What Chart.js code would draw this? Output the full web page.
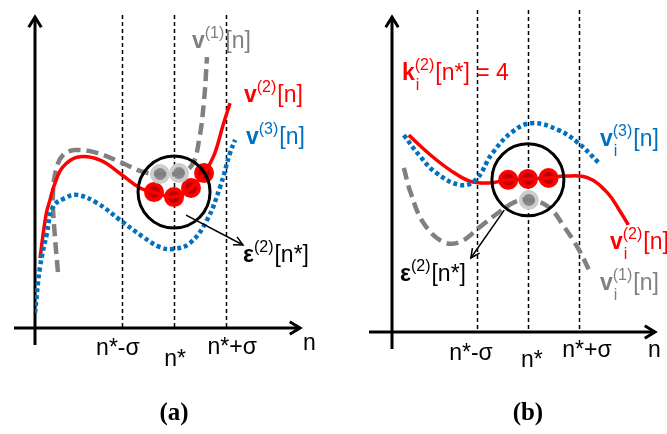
<!DOCTYPE html>
<html>
<head>
<meta charset="utf-8">
<script src="https://cdn.jsdelivr.net/npm/chart.js@4.4.1/dist/chart.umd.min.js"></script>
<style>
  html, body { margin: 0; padding: 0; background: #fff; }
  #wrap { position: relative; width: 667px; height: 434px; }
  canvas { position: absolute; top: 0; }
</style>
</head>
<body>
<div id="wrap">
  <canvas id="pa" width="334" height="434" style="left:0"></canvas>
  <canvas id="pb" width="333" height="434" style="left:334px"></canvas>
</div>
<script>
// schematic values, n on the horizontal axis, v on the vertical
const N_STAR = 10;
const SIGMA = 3.75;
const markN = [N_STAR - SIGMA, N_STAR, N_STAR + SIGMA];
const markLabels = ['n*-\u03c3', 'n*', 'n*+\u03c3'];

// panel (a)
const aV1 = [[1.65,1.80],[1.37,3.31],[1.29,4.28],[1.51,5.08],[2.01,5.56],[2.88,5.72],[4.46,5.63],[6.26,5.31],[7.77,5.02],[8.99,4.95],[10.36,4.98],[11.29,5.24],[11.80,6.04],[12.16,7.33],[12.37,8.71]];
const aV2 = [[0.36,2.25],[0.79,3.63],[1.08,4.12],[1.44,4.66],[2.01,5.18],[3.09,5.50],[4.68,5.40],[6.26,4.92],[7.55,4.50],[8.56,4.37],[10.0,4.21],[11.22,4.50],[12.16,4.98],[12.88,5.56],[13.53,6.53],[14.03,7.23]];
const aV3 = [[0,0.48],[0.36,1.96],[0.86,3.05],[1.29,3.89],[2.16,4.18],[3.02,4.28],[4.46,4.02],[6.12,3.47],[7.77,2.93],[8.99,2.60],[9.93,2.54],[11.15,2.73],[12.37,3.47],[13.31,4.53],[14.03,5.63],[14.39,6.05]];
const aRedPts = [[8.56,4.37],[10.0,4.21],[11.22,4.50],[12.16,4.98]];
const aGrayPts = [[8.99,4.95],[10.36,4.98]];

// panel (b)
const bV1 = [[0.87,5.21],[1.38,4.41],[2.32,3.46],[3.77,2.86],[5.0,2.86],[6.45,3.33],[7.90,3.81],[9.06,4.13],[10.07,4.19],[11.52,3.97],[12.68,3.33],[13.77,2.60],[14.57,1.90]];
const bV2 = [[1.23,6.25],[2.83,5.62],[4.28,5.14],[5.72,4.79],[7.17,4.73],[8.55,4.83],[10.0,4.86],[11.52,4.89],[12.68,4.95],[14.42,4.89],[15.87,4.41],[16.81,3.81],[17.39,3.40]];
const bV3 = [[0.87,6.25],[2.10,5.56],[3.26,5.05],[5.0,4.67],[6.16,4.83],[7.39,5.68],[8.84,6.35],[10.29,6.63],[12.25,6.41],[13.70,6.0],[15.22,5.37]];
const bRedPts = [[8.55,4.83],[10.0,4.86],[11.52,4.89]];
const bGrayPts = [[10.07,4.19]];
const K_VALUE = 4;

const RED = '#ff0000', BLUE = '#0070c0', GRAY = '#808080';
const SANS = '"Liberation Sans", Arial, sans-serif';
const BASE = 23, SMALL = 16;

function pts(arr) { return arr.map(([x, y]) => ({ x, y })); }
function font(size, bold) { return (bold ? 'bold ' : '') + size + 'px ' + SANS; }

// draw a run of text pieces with optional stacked super/subscripts
function rich(ctx, x, y, runs, color) {
    ctx.fillStyle = color;
    ctx.textAlign = 'left';
    ctx.textBaseline = 'alphabetic';
    let cx = x;
    for (const r of runs) {
        if (r.sup !== undefined || r.sub !== undefined) {
            ctx.font = font(SMALL, false);
            let w = 0;
            if (r.sup) { ctx.fillText(r.sup, cx, y - 10); w = ctx.measureText(r.sup).width; }
            if (r.sub) { ctx.fillText(r.sub, cx + 1, y + 10); w = Math.max(w, ctx.measureText(r.sub).width + 1); }
            cx += w + 1;
        } else {
            ctx.font = font(BASE, r.b);
            ctx.fillText(r.t, cx, y);
            cx += ctx.measureText(r.t).width;
        }
    }
}

function arrowHead(ctx, x1, y1, x2, y2, len, ang) {
    const a = Math.atan2(y2 - y1, x2 - x1);
    ctx.beginPath();
    ctx.moveTo(x2 - len * Math.cos(a - ang), y2 - len * Math.sin(a - ang));
    ctx.lineTo(x2, y2);
    ctx.lineTo(x2 - len * Math.cos(a + ang), y2 - len * Math.sin(a + ang));
    ctx.stroke();
}

function makePanel(canvas, p) {
    const decoBelow = {
        id: 'decoBelow',
        beforeDatasetsDraw(chart) {
            const { ctx, scales: { x, y }, chartArea: ca } = chart;
            ctx.save();
            // dashed guide lines
            ctx.strokeStyle = '#000';
            ctx.lineWidth = 1.5;
            ctx.setLineDash([4, 3]);
            markN.forEach(n => {
                const px = Math.round(x.getPixelForValue(n)) + 0.5;
                ctx.beginPath();
                ctx.moveTo(px, p.dashTop);
                ctx.lineTo(px, ca.bottom);
                ctx.stroke();
            });
            ctx.setLineDash([]);
            // axes with open arrow heads
            ctx.lineWidth = 3;
            ctx.beginPath();
            ctx.moveTo(ca.left, ca.bottom + 17);
            ctx.lineTo(ca.left, ca.top);
            ctx.moveTo(ca.left - p.xAxisBack, ca.bottom);
            ctx.lineTo(ca.right, ca.bottom);
            ctx.stroke();
            arrowHead(ctx, ca.left, ca.bottom, ca.left, ca.top, 12, 0.55);
            arrowHead(ctx, ca.left, ca.bottom, ca.right, ca.bottom, 12, 0.55);
            ctx.restore();
        },
        beforeDatasetDraw(chart) {
            chart.ctx.setLineDash([]);
        }
    };
    const decoAbove = {
        id: 'decoAbove',
        afterDatasetsDraw(chart) {
            const { ctx, scales: { x, y }, chartArea: ca } = chart;
            ctx.save();
            ctx.setLineDash([]);
            // neighbourhood circle
            ctx.strokeStyle = '#000';
            ctx.lineWidth = 3;
            ctx.beginPath();
            ctx.arc(x.getPixelForValue(p.circle[0]), y.getPixelForValue(p.circle[1]), 36, 0, Math.PI * 2);
            ctx.stroke();
            // arrow to epsilon label
            const ax1 = x.getPixelForValue(p.arrow[0][0]), ay1 = y.getPixelForValue(p.arrow[0][1]);
            const ax2 = x.getPixelForValue(p.arrow[1][0]), ay2 = y.getPixelForValue(p.arrow[1][1]);
            ctx.lineWidth = 1.5;
            ctx.beginPath();
            ctx.moveTo(ax1, ay1);
            ctx.lineTo(ax2, ay2);
            ctx.stroke();
            arrowHead(ctx, ax1, ay1, ax2, ay2, 10, 0.45);
            // axis tick labels
            ctx.fillStyle = '#000';
            ctx.font = '23px ' + SANS;
            ctx.textAlign = 'center';
            ctx.textBaseline = 'alphabetic';
            markN.forEach((n, i) => {
                const px = x.getPixelForValue(n) + p.tickDx[i];
                ctx.fillText(markLabels[i], px, p.tickY[i]);
            });
            ctx.textAlign = 'left';
            ctx.fillText('n', p.nLabel[0], p.nLabel[1]);
            ctx.font = 'bold 25px "Liberation Serif", "Times New Roman", serif';
            ctx.textAlign = 'center';
            ctx.fillText(p.caption, x.getPixelForValue(N_STAR), 420);
            // curve labels
            p.labels.forEach(l => rich(ctx, l.x, l.y, l.runs, l.color));
            ctx.restore();
        }
    };

    const line = (data, color, width, dash) => ({
        data: pts(data), borderColor: color, borderWidth: width, borderDash: dash,
        borderCapStyle: 'butt', pointRadius: 0, tension: 0.4, fill: false
    });
    const dots = (data, fillCol, ring) => ({
        data: pts(data), showLine: false, borderDash: [], pointRadius: 8, pointBorderWidth: 4,
        pointBackgroundColor: fillCol, pointBorderColor: ring
    });

    return new Chart(canvas, {
        type: 'line',
        data: {
            datasets: [
                line(p.v3, BLUE, 4.5, [4, 3]),
                line(p.v2, RED, 3.5, []),
                line(p.v1, GRAY, 4.5, [12, 6]),
                dots(p.grayPts, '#888888', '#cccccc'),
                dots(p.redPts, '#c00000', RED)
            ]
        },
        options: {
            responsive: false,
            animation: false,
            events: [],
            layout: { padding: p.pad },
            plugins: { legend: { display: false }, tooltip: { enabled: false } },
            scales: {
                x: { type: 'linear', display: false, min: 0, max: p.xMax },
                y: { type: 'linear', display: false, min: 0, max: 10 }
            }
        },
        plugins: [decoBelow, decoAbove]
    });
}

makePanel(document.getElementById('pa'), {
    v1: aV1, v2: aV2, v3: aV3, redPts: aRedPts, grayPts: aGrayPts,
    pad: { left: 35, right: 34, top: 17, bottom: 106 }, xMax: 19.06, xAxisBack: 21, dashTop: 15,
    circle: [N_STAR, 4.37], arrow: [[10.87, 3.63], [14.96, 2.67]],
    tickDx: [-4, 1, 6], tickY: [355, 366, 354], nLabel: [303, 350], caption: '(a)',
    labels: [
        { x: 192, y: 48, color: GRAY, runs: [{ t: 'v', b: true }, { sup: '(1)' }, { t: '[n]' }] },
        { x: 244, y: 102, color: RED, runs: [{ t: 'v', b: true }, { sup: '(2)' }, { t: '[n]' }] },
        { x: 246, y: 144, color: BLUE, runs: [{ t: 'v', b: true }, { sup: '(3)' }, { t: '[n]' }] },
        { x: 243, y: 262, color: '#000', runs: [{ t: '\u03b5', b: true }, { sup: '(2)' }, { t: '[n*]' }] }
    ]
});

makePanel(document.getElementById('pb'), {
    v1: bV1, v2: bV2, v3: bV3, redPts: bRedPts, grayPts: bGrayPts,
    pad: { left: 58, right: 8, top: 17, bottom: 102 }, xMax: 19.35, xAxisBack: 23, dashTop: 10,
    circle: [N_STAR, 4.83], arrow: [[8.26, 3.87], [5.80, 2.35]],
    tickDx: [-6, 4, 8], tickY: [360, 367, 357], nLabel: [314, 357], caption: '(b)',
    labels: [
        { x: 68, y: 80, color: RED, runs: [{ t: 'k', b: true }, { sup: '(2)', sub: 'i' }, { t: '[n*] = ' + K_VALUE }] },
        { x: 266, y: 146, color: BLUE, runs: [{ t: 'v', b: true }, { sup: '(3)', sub: 'i' }, { t: '[n]' }] },
        { x: 276, y: 249, color: RED, runs: [{ t: 'v', b: true }, { sup: '(2)', sub: 'i' }, { t: '[n]' }] },
        { x: 266, y: 290, color: GRAY, runs: [{ t: 'v', b: true }, { sup: '(1)', sub: 'i' }, { t: '[n]' }] },
        { x: 66, y: 281, color: '#000', runs: [{ t: '\u03b5', b: true }, { sup: '(2)' }, { t: '[n*]' }] }
    ]
});
</script>
</body>
</html>
